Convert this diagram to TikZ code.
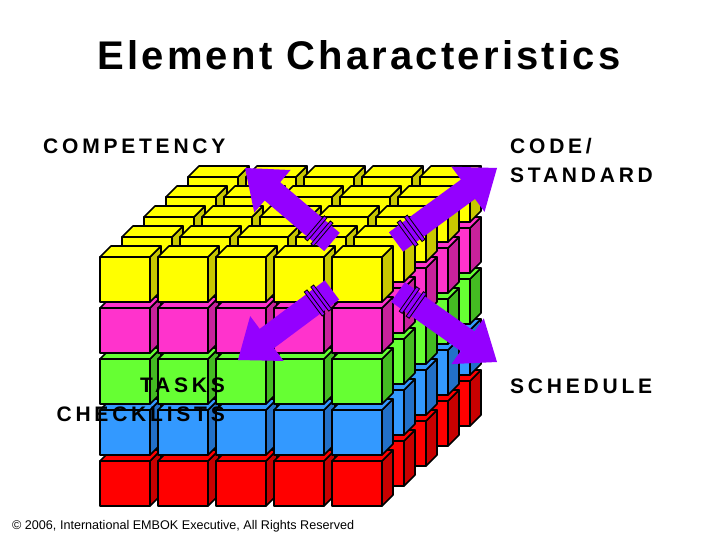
\documentclass[tikz,border=0pt]{standalone}
\usepackage{fontspec}
\setmainfont{Liberation Sans}
\usetikzlibrary{calc}
\definecolor{purp}{HTML}{9400FF}
\tikzset{
 face/.style={draw=black,line width=1.6pt,line join=round},
 brk/.style={draw=black,fill=purp,line width=0.8pt},
 lbl/.style={font=\bfseries\fontsize{21}{29}\selectfont\addfontfeature{LetterSpace=18},align=left,inner sep=0pt},
}
\newcommand{\fatarrow}[3]{% name, tail, tip
 \coordinate (#1t) at #2; \coordinate (#1p) at #3;
 \coordinate (#1h) at ($(#1p)!36pt!(#1t)$);
 \fill[purp] ($(#1t)!12pt!90:(#1p)$) -- ($(#1h)!12pt!-90:(#1t)$) -- ($(#1h)!28pt!-90:(#1t)$) -- (#1p)
   -- ($(#1h)!28pt!90:(#1t)$) -- ($(#1h)!12pt!90:(#1t)$) -- ($(#1t)!12pt!-90:(#1p)$) -- cycle;
 \foreach \q/\n in {0.10/1,0.17/2}{
  \coordinate (#1m\n) at ($(#1t)!\q!(#1p)$);
  \coordinate (#1n\n) at ($(#1t)!\q+0.03!(#1p)$);
  \filldraw[brk] ($(#1m\n)!15pt!90:(#1p)$) -- ($(#1m\n)!15pt!-90:(#1p)$) -- ($(#1n\n)!15pt!90:(#1t)$) -- ($(#1n\n)!15pt!-90:(#1t)$) -- cycle;
 }
}
\begin{document}
\begin{tikzpicture}[x=1pt,y=-1pt]
\useasboundingbox[fill=white] (0,0) rectangle (720,540);
\node[font=\bfseries\fontsize{40}{44}\selectfont\addfontfeature{LetterSpace=8}] (title) at (359,55) {Element Characteristics};
\foreach \k in {4,3,2,1,0}{
 \foreach \r/\cf/\cs in {4/FF0000/C80000,3/3399FF/2270C8,2/66FF33/44BB22,1/FF33CC/C8229B,0/FFFF00/C8C800}{
  \foreach \c in {0,...,4}{
   \pgfmathsetmacro{\X}{100+58*\c+22*\k}
   \pgfmathsetmacro{\Y}{257+51*\r-20*\k}
   \definecolor{cf}{HTML}{\cf}\definecolor{cs}{HTML}{\cs}
   \filldraw[face,fill=cs] (\X+50,\Y) -- ++(11,-11) -- ++(0,45) -- ++(-11,11) -- cycle;
   \filldraw[face,fill=cf] (\X,\Y) -- ++(11,-11) -- ++(50,0) -- ++(-11,11) -- cycle;
   \filldraw[face,fill=cf] (\X,\Y) rectangle ++(50,45);
  }
 }
}
\fatarrow{a}{(332,242)}{(245,168)}
\fatarrow{b}{(396,242)}{(497,168)}
\fatarrow{c}{(332,290)}{(238,360)}
\fatarrow{d}{(398,292)}{(497,362)}
\node[lbl,anchor=west] (comp) at (43,146) {COMPETENCY};
\node[lbl,anchor=west] (code) at (510,160) {CODE/\\STANDARD};
\node[lbl,anchor=west] (sched) at (510,386) {SCHEDULE};
\node[lbl,anchor=east,align=right] (tasks) at (225,400) {TASKS\\CHECKLISTS};
\node[font=\fontsize{12.6}{14}\selectfont,anchor=west,inner sep=0pt] (copy) at (12,526) {© 2006, International EMBOK Executive, All Rights Reserved};
\end{tikzpicture}
\end{document}
